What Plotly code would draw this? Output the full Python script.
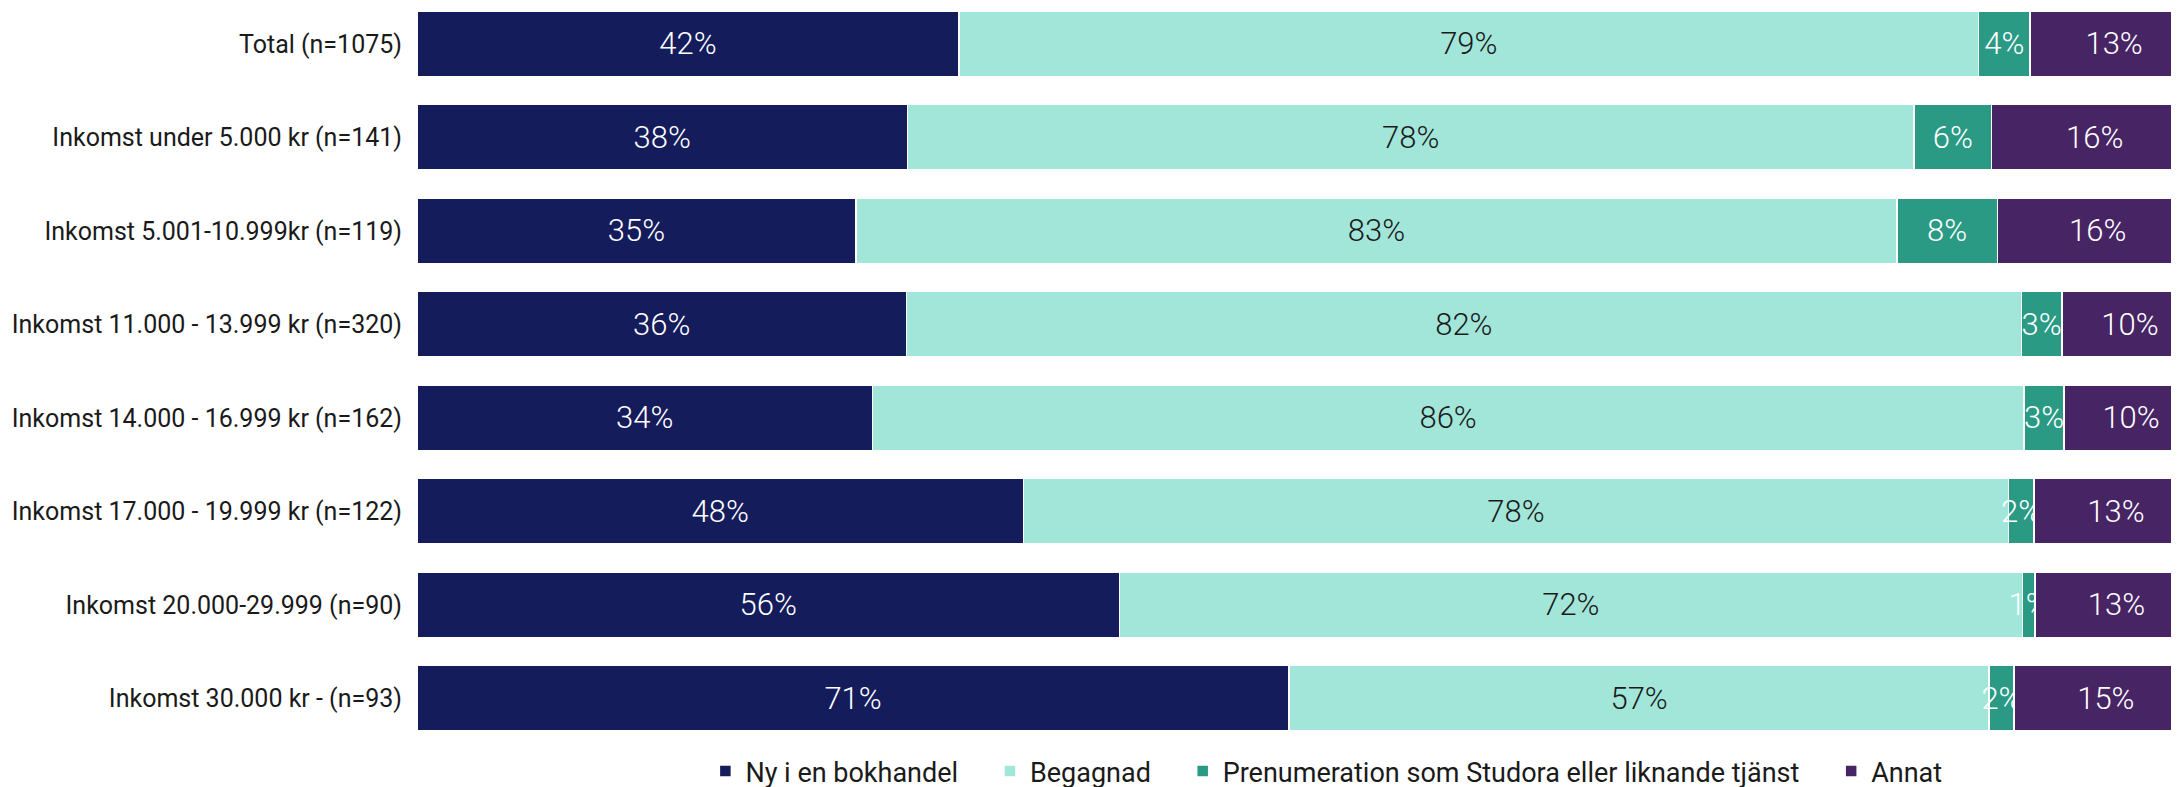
import plotly.graph_objects as go

# Income groups (top to bottom)
groups = [
    "Total (n=1075)",
    "Inkomst under 5.000 kr (n=141)",
    "Inkomst 5.001-10.999kr (n=119)",
    "Inkomst 11.000 - 13.999 kr (n=320)",
    "Inkomst 14.000 - 16.999 kr (n=162)",
    "Inkomst 17.000 - 19.999 kr (n=122)",
    "Inkomst 20.000-29.999 (n=90)",
    "Inkomst 30.000 kr - (n=93)",
]

# Share (%) per answer
ny_bokhandel = [42, 38, 35, 36, 34, 48, 56, 71]
begagnad = [79, 78, 83, 82, 86, 78, 72, 57]
prenumeration = [4, 6, 8, 3, 3, 2, 1, 2]
annat = [13, 16, 16, 10, 10, 13, 13, 15]

series = [
    ("Ny i en bokhandel", ny_bokhandel, "#141C5B", "white"),
    ("Begagnad", begagnad, "#A2E6D9", "#1a1a1a"),
    ("Prenumeration som Studora eller liknande tjänst", prenumeration, "#2A9A85", "white"),
    ("Annat", annat, "#472565", "white"),
]

fig = go.Figure()
for i, (name, vals, color, txtcolor) in enumerate(series):
    # a little trailing space so the legend items sit further apart
    pad = "" if i == len(series) - 1 else "\u00a0" * 4
    fig.add_trace(go.Bar(
        y=groups,
        x=vals,
        name=name + pad,
        orientation="h",
        marker=dict(color=color, line=dict(color="white", width=1.5)),
        text=[f"{v}%" for v in vals],
        textposition="inside",
        insidetextanchor="middle",
        textangle=0,
        textfont=dict(color=txtcolor, size=31, family="Roboto", weight=300),
        hovertemplate="%{y}<br>" + name + ": %{text}<extra></extra>",
    ))

# Bars are stretched to full width (answers sum to more than 100%);
# the right end runs a little past the window, as in the original
fig.update_layout(
    barmode="stack",
    barnorm="percent",
    bargap=0.30,
    width=2190,
    height=779,
    margin=dict(l=409, r=0, t=0, b=42),
    plot_bgcolor="white",
    paper_bgcolor="white",
    font=dict(family="Roboto", size=25, color="#1a1a1a"),
    uniformtext=dict(minsize=31, mode="show"),
    legend=dict(
        orientation="h",
        xref="container",
        x=0.602,
        xanchor="center",
        yref="container",
        y=0.02,
        yanchor="middle",
        itemwidth=30,
        font=dict(size=27),
        traceorder="normal",
    ),
)
fig.update_xaxes(visible=False, range=[0, 100])
fig.update_yaxes(range=[7.498, -0.383], showgrid=False, ticks="", ticklabelstandoff=14)

fig.write_html("out.html")
